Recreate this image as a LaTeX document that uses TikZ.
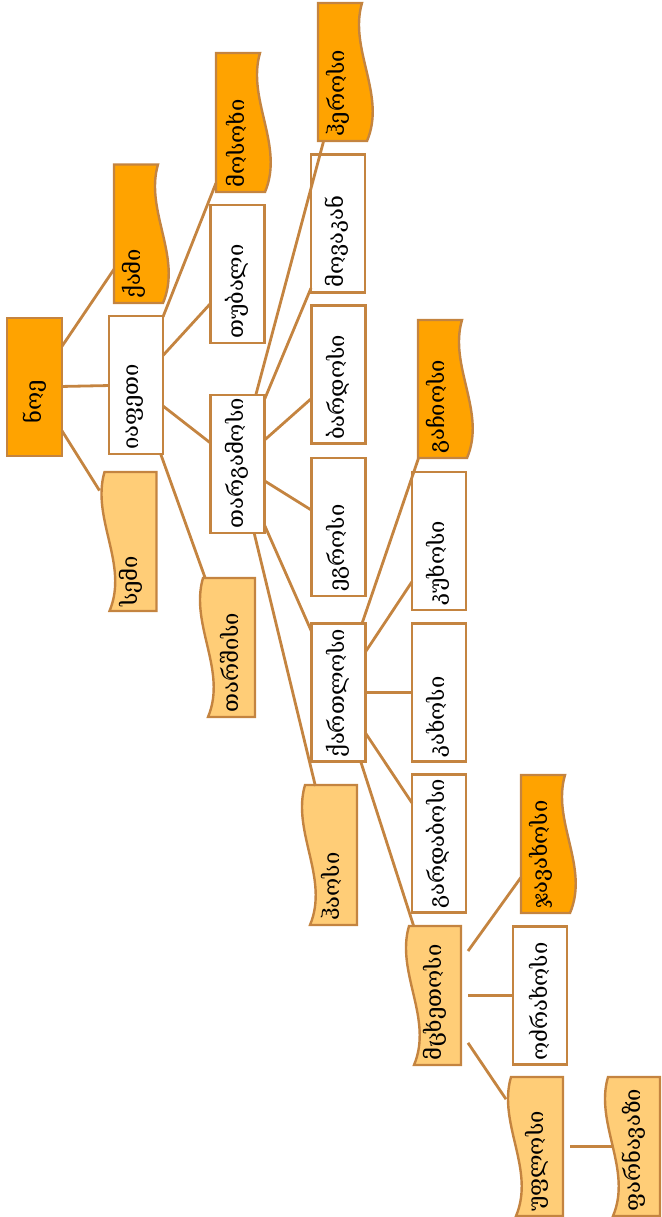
\documentclass[tikz,border=0pt]{standalone}
\usepackage{fontspec}
\newfontfamily\geo{DejaVu Serif}
\definecolor{edgec}{RGB}{196,132,64}
\definecolor{darkf}{RGB}{255,163,0}
\definecolor{lightf}{RGB}{255,205,119}
\tikzset{
  rbox/.style={draw=edgec, line width=2.4pt, fill=white, minimum width=54pt, minimum height=138pt, inner sep=0pt, outer sep=0pt},
  hbox/.style={minimum height=138pt, inner sep=0pt, outer sep=0pt},
  conn/.style={draw=edgec, line width=2.8pt},
  wavefill/.style={draw=edgec, line width=2.4pt},
  lbl/.style={rotate=90, anchor=west, inner sep=0pt, font=\geo\fontsize{22}{26}\selectfont},
}
% orange wave: name, L, T, B, text
\newcommand\owave[5]{%
  \path[wavefill, fill=darkf] (#2,#3) -- ({#2+44},#3) .. controls ({#2+30.4},{#3+(#4-#3)/3}) and ({#2+68.6},{#3+2*(#4-#3)/3}) .. ({#2+49},#4) -- (#2,#4) -- cycle;
  \node[hbox, minimum width=48pt] (#1) at ({#2+24},{(#3+#4)/2}) {};
  \node[lbl] (#1-t) at ({#2+20},{#4-4}) {#5};
}
% light wave: name, R, T, B, text
\newcommand\lwave[5]{%
  \path[wavefill, fill=lightf] (#2,#3) -- (#2,#4) -- ({#2-47},#4) .. controls ({#2-27.4},{#3+2*(#4-#3)/3}) and ({#2-65.6},{#3+(#4-#3)/3}) .. ({#2-52},#3) -- cycle;
  \node[hbox, minimum width=64pt] (#1) at ({#2-25},{(#3+#4)/2}) {};
  \node[lbl] (#1-t) at ({#2-26},{#4-4}) {#5};
}
% rectangle: name, cx, cy, B, text
\newcommand\rnode[5]{%
  \node[rbox] (#1) at (#2,#3) {};
  \node[lbl] (#1-t) at ({#2-1},{#4-4}) {#5};
}
\begin{document}
\begin{tikzpicture}[x=1pt,y=-1pt]
\useasboundingbox (0,0) rectangle (661,1217);
% root
\node[rbox, fill=darkf, minimum width=55pt] (noe) at (34.5,387) {};
\node[lbl] (noe-t) at (34.5,424) {ნოე};
% rectangles
\rnode{iapeti}{136}{385}{454}{იაფეთი}
\rnode{tubali}{237.5}{274}{343}{თუბალი}
\rnode{targamosi}{237.5}{464}{533}{თარგამოსი}
\rnode{movakan}{338}{223.5}{292}{მოვაკან}
\rnode{bardosi}{338.5}{374.5}{444}{ბარდოსი}
\rnode{egrosi}{338.5}{527}{596}{ეგროსი}
\rnode{kartlosi}{338.5}{692.5}{762}{ქართლოსი}
\rnode{kuxosi}{439}{541}{610}{კუხოსი}
\rnode{kaxosi}{439}{692.5}{762}{კახოსი}
\rnode{gardabosi}{439}{843.5}{913}{გარდაბოსი}
\rnode{odzraxosi}{540}{995.5}{1065}{ოძრახოსი}
% orange waves
\owave{kami}{114}{164.5}{303}{ქამი}
\owave{mosoxi}{216}{53}{192}{მოსოხი}
\owave{herosi}{318}{3}{141}{ჰეროსი}
\owave{gachiosi}{418}{320}{458}{გაჩიოსი}
\owave{javaxosi}{521}{775}{913}{ჯავახოსი}
% light waves
\lwave{semi}{156.5}{472}{611}{სემი}
\lwave{tarshisi}{255}{578}{717}{თარშისი}
\lwave{haosi}{357}{785}{925}{ჰაოსი}
\lwave{mtskhetosi}{461}{926}{1065}{მცხეთოსი}
\lwave{uplosi}{563}{1077}{1216}{უფლოსი}
\lwave{parnavazi}{660}{1077}{1216}{ფარნავაზი}
% connectors
\draw[conn] (noe) -- (semi);
\draw[conn] (noe) -- (iapeti);
\draw[conn] (noe) -- (kami);
\draw[conn] (iapeti) -- (mosoxi);
\draw[conn] (iapeti) -- (tubali);
\draw[conn] (iapeti) -- (targamosi);
\draw[conn] (iapeti) -- (tarshisi);
\draw[conn] (targamosi) -- (herosi);
\draw[conn] (targamosi) -- (movakan);
\draw[conn] (targamosi) -- (bardosi);
\draw[conn] (targamosi) -- (egrosi);
\draw[conn] (targamosi) -- (kartlosi);
\draw[conn] (targamosi) -- (haosi);
\draw[conn] (kartlosi) -- (gachiosi);
\draw[conn] (kartlosi) -- (kuxosi);
\draw[conn] (kartlosi) -- (kaxosi);
\draw[conn] (kartlosi) -- (gardabosi);
\draw[conn] (kartlosi) -- (mtskhetosi);
\draw[conn] (mtskhetosi) -- (javaxosi);
\draw[conn] (mtskhetosi) -- (odzraxosi);
\draw[conn] (mtskhetosi) -- (uplosi);
\draw[conn, shorten >=-10pt] (uplosi) -- (parnavazi);
\end{tikzpicture}
\end{document}
